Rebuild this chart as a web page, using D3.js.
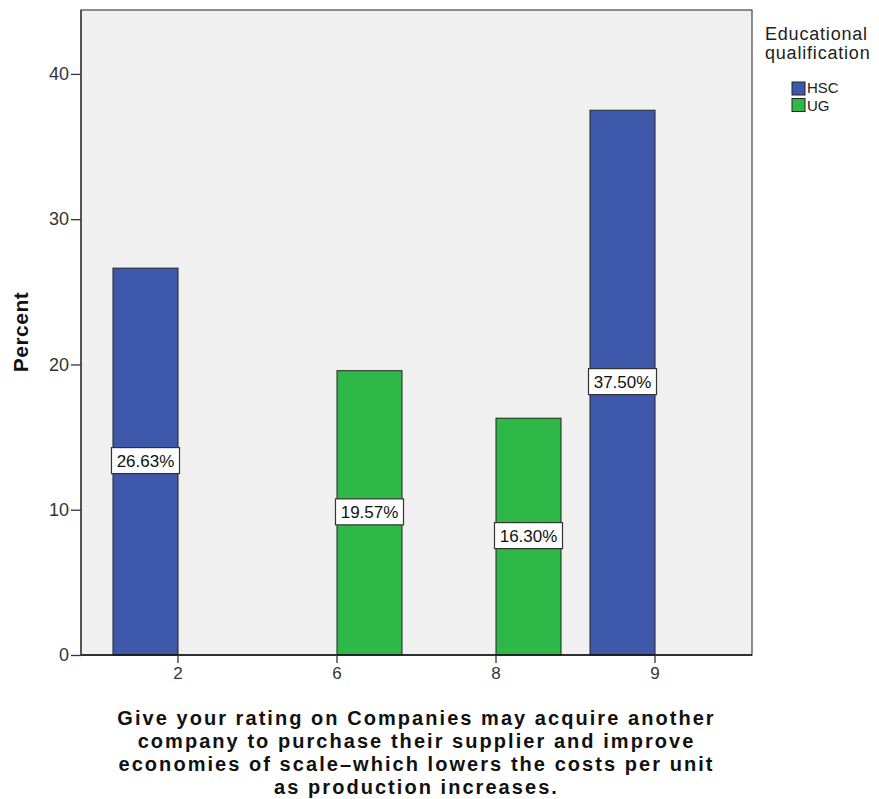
<!DOCTYPE html>
<html><head><meta charset="utf-8">
<script src="https://cdn.jsdelivr.net/npm/d3@7"></script>
<style>body{margin:0;background:#fff;} svg{display:block;font-family:"Liberation Sans",Arial,sans-serif;}</style>
</head><body>
<script>
const categories = ["2","6","8","9"];
const groups = ["HSC","UG"];
const hscValues = [26.63, null, null, 37.50];
const ugValues = [null, 19.57, 16.30, null];
const yTicks = [0,10,20,30,40];
const colors = {HSC:"#3e58ac", UG:"#2eb848"};
const xTitleLines = ["Give your rating on Companies may acquire another","company to purchase their supplier and improve","economies of scale–which lowers the costs per unit","as production increases."];

const W=879,H=799;
const m={l:81,r:752,t:10,b:655};
const svg=d3.select("body").append("svg").attr("width",W).attr("height",H);

const x0=d3.scaleBand().domain(categories).range([m.l,m.r]).paddingInner(0).paddingOuter(0.11);
const x1=d3.scaleBand().domain(groups).range([0,x0.bandwidth()]).paddingInner(0).paddingOuter(0.223);
const y=d3.scaleLinear().domain([0,44.4]).range([m.b,m.t]);

svg.append("rect").attr("x",m.l).attr("y",m.t).attr("width",m.r-m.l).attr("height",m.b-m.t).attr("fill","#f0f0f0");

const data=[];
categories.forEach((c,i)=>{
  if(hscValues[i]!=null) data.push({c,g:"HSC",v:hscValues[i]});
  if(ugValues[i]!=null) data.push({c,g:"UG",v:ugValues[i]});
});

svg.selectAll("rect.bar").data(data).enter().append("rect").attr("class","bar")
  .attr("x",d=>x0(d.c)+x1(d.g)).attr("width",x1.bandwidth())
  .attr("y",d=>y(d.v)).attr("height",d=>y(0)-y(d.v))
  .attr("fill",d=>colors[d.g]).attr("stroke","#222").attr("stroke-width",1);

// labels
const lab=svg.selectAll("g.lab").data(data).enter().append("g").attr("class","lab")
  .attr("transform",d=>`translate(${x0(d.c)+x1(d.g)+x1.bandwidth()/2},${y(d.v/2)-1})`);
lab.append("rect").attr("x",-34).attr("y",-13).attr("width",68).attr("height",26)
  .attr("fill","#fff").attr("stroke","#333").attr("stroke-width",1.2);
lab.append("text").attr("text-anchor","middle").attr("dy","0.36em").attr("font-size",17).attr("fill","#111")
  .text(d=>d.v.toFixed(2)+"%");

// frame
svg.append("rect").attr("x",m.l).attr("y",m.t).attr("width",m.r-m.l).attr("height",m.b-m.t)
  .attr("fill","none").attr("stroke","#444").attr("stroke-width",1.2);
svg.append("line").attr("x1",m.l).attr("x2",m.r).attr("y1",m.b).attr("y2",m.b).attr("stroke","#111").attr("stroke-width",1.5);
svg.append("line").attr("x1",m.l).attr("x2",m.l).attr("y1",m.t).attr("y2",m.b).attr("stroke","#444").attr("stroke-width",1.5);

// y axis
const ya=svg.append("g").attr("transform",`translate(${m.l},0)`)
  .call(d3.axisLeft(y).tickValues(yTicks).tickSize(10).tickPadding(2).tickFormat(d3.format("d")));
ya.select(".domain").remove();
ya.selectAll("line").attr("stroke","#333").attr("stroke-width",1.3);
ya.selectAll("text").attr("font-size",18).attr("fill","#333").attr("font-family","Liberation Sans, Arial, sans-serif");

// x axis
const xa=svg.append("g").attr("transform",`translate(0,${m.b})`)
  .call(d3.axisBottom(x0).tickSize(8).tickPadding(4));
xa.select(".domain").remove();
xa.selectAll("line").attr("stroke","#333").attr("stroke-width",1.3);
xa.selectAll("text").attr("font-size",17).attr("fill","#333").attr("font-family","Liberation Sans, Arial, sans-serif");

// y title
svg.append("text").attr("transform","translate(28,332) rotate(-90)").attr("text-anchor","middle")
  .attr("font-size",21).attr("font-weight","bold").attr("letter-spacing",0.5).attr("fill","#111").text("Percent");

// x title
const xt=svg.append("text").attr("text-anchor","middle").attr("font-size",20).attr("font-weight","bold")
  .attr("letter-spacing",2.05).attr("fill","#111");
xTitleLines.forEach((t,i)=>xt.append("tspan").attr("x",(m.l+m.r)/2).attr("y",725+i*23).text(t));

// legend
const lg=svg.append("g");
lg.append("text").attr("x",765).attr("y",40).attr("font-size",18).attr("letter-spacing",0.8).attr("fill","#222").text("Educational");
lg.append("text").attr("x",765).attr("y",59).attr("font-size",18).attr("letter-spacing",0.8).attr("fill","#222").text("qualification");
groups.forEach((g,i)=>{
  lg.append("rect").attr("x",792).attr("y",82+i*16.5).attr("width",13).attr("height",13).attr("fill",colors[g]).attr("stroke","#222");
  lg.append("text").attr("x",807).attr("y",93+i*17.5).attr("font-size",15).attr("fill","#222").text(g);
});
</script>
</body></html>
